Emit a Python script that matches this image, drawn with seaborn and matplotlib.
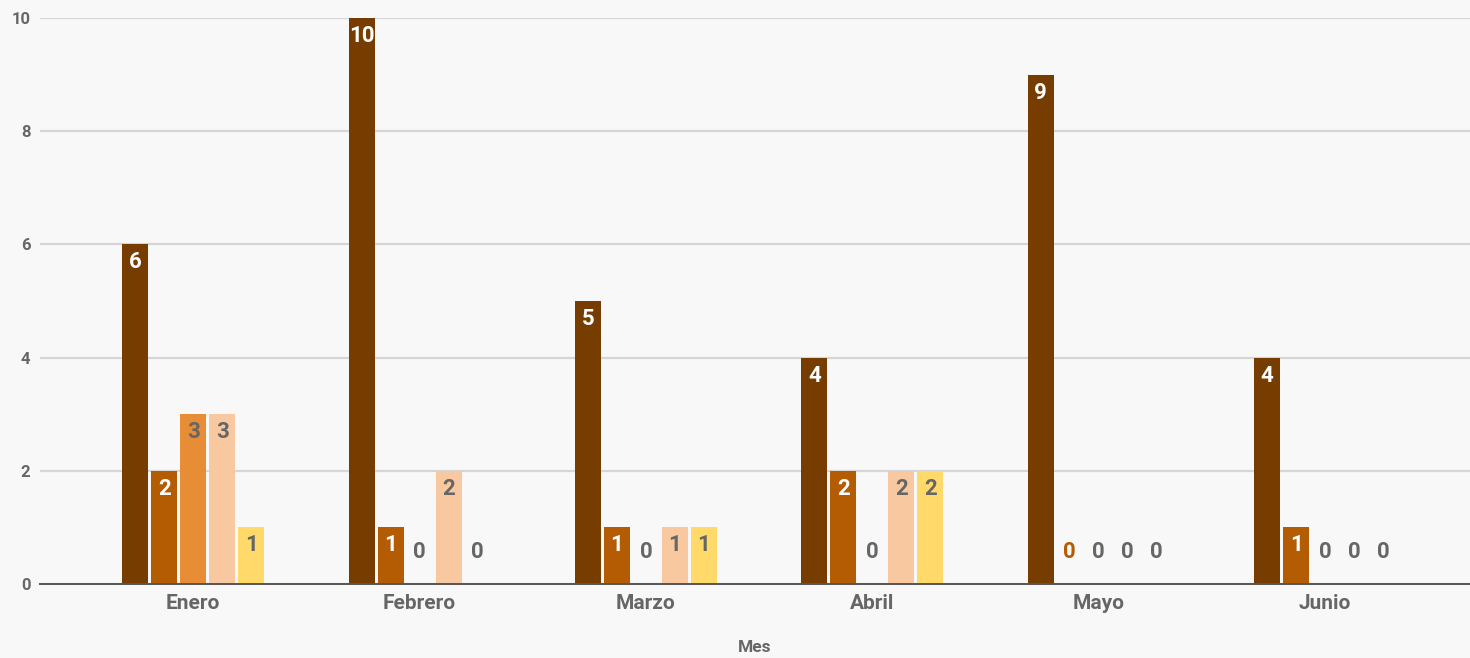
import matplotlib
matplotlib.use("Agg")
import matplotlib.pyplot as plt
import pandas as pd
import seaborn as sns

meses = ["Enero", "Febrero", "Marzo", "Abril", "Mayo", "Junio"]
series = ["Serie 1", "Serie 2", "Serie 3", "Serie 4", "Serie 5"]
serie_1 = [6, 10, 5, 4, 9, 4]
serie_2 = [2, 1, 1, 2, 0, 1]
serie_3 = [3, 0, 0, 0, 0, 0]
serie_4 = [3, 2, 1, 2, 0, 0]
serie_5 = [1, 0, 1, 2, 0, 0]
y_ticks = [0, 2, 4, 6, 8, 10]

colores = ["#763C00", "#B45C04", "#E68D36", "#F8C9A0", "#FFDA6A"]
# label colour on the bar, and for a zero value drawn above the baseline
color_label = ["white", "white", "#666666", "#666666", "#666666"]
color_cero = ["#666666", "#B45C04", "#666666", "#666666", "#666666"]

valores = [serie_1, serie_2, serie_3, serie_4, serie_5]
df = pd.DataFrame({
    "Mes": [m for vals in valores for m in meses],
    "Serie": [s for s, vals in zip(series, valores) for _ in vals],
    "Valor": [v for vals in valores for v in vals],
})

sns.set_theme(style="white")
plt.rcParams["font.family"] = ["Roboto", "DejaVu Sans"]

fig = plt.figure(figsize=(14.7, 6.58), dpi=100, facecolor="#F8F8F8")
ax = fig.add_axes([0.0272, 0.1125, 0.9728, 0.8601])
ax.set_facecolor("#F8F8F8")

sns.barplot(data=df, x="Mes", y="Valor", hue="Serie", order=meses,
            hue_order=series, palette=colores, width=0.64, gap=0.1,
            legend=False, ax=ax, saturation=1, edgecolor="none")

ax.set_ylim(0, 10)
ax.set_xlim(-0.677, 5.64)
ax.set_yticks(y_ticks)
ax.yaxis.grid(True, color="#D6D6D6", linewidth=1.6, zorder=0)
ax.set_axisbelow(True)
for s in ["top", "right", "left"]:
    ax.spines[s].set_visible(False)
ax.spines["bottom"].set_color("#555555")
ax.spines["bottom"].set_linewidth(1.4)
ax.tick_params(axis="both", length=0, labelcolor="#666666")
ax.tick_params(axis="y", pad=7, labelsize=12)
ax.tick_params(axis="x", pad=7, labelsize=15)
for lbl in ax.get_xticklabels() + ax.get_yticklabels():
    lbl.set_fontweight("bold")
ax.set_xlabel("Mes", fontsize=12.5, fontweight="bold", color="#666666",
              labelpad=20)
ax.set_ylabel("")

for i, cont in enumerate(ax.containers):
    for bar in cont:
        h = bar.get_height()
        x = bar.get_x() + bar.get_width() / 2
        if h > 0:
            ax.annotate(f"{h:.0f}", (x, h), xytext=(0, -13),
                        textcoords="offset points", ha="center", va="center",
                        fontsize=16, fontweight="bold", color=color_label[i])
        else:
            ax.annotate("0", (x, 0), xytext=(0, 23),
                        textcoords="offset points", ha="center", va="center",
                        fontsize=16, fontweight="bold", color=color_cero[i])

fig.savefig("out.png", dpi=100, facecolor=fig.get_facecolor())
